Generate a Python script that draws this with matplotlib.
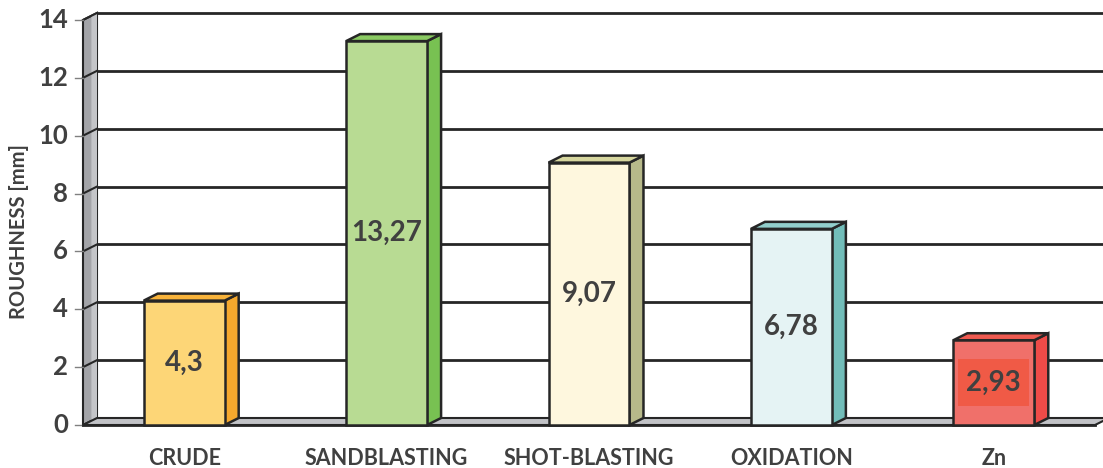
import numpy as np
import matplotlib.pyplot as plt
from matplotlib.patches import Polygon, Rectangle

# data
categories = ['CRUDE', 'SANDBLASTING', 'SHOT-BLASTING', 'OXIDATION', 'Zn']
values = [4.3, 13.27, 9.07, 6.78, 2.93]
labels = ['4,3', '13,27', '9,07', '6,78', '2,93']
yticks = [0, 2, 4, 6, 8, 10, 12, 14]

front_cols = ['#FDD677', '#B8DB93', '#FEF7DE', '#E5F3F4', '#F0706A']
side_cols = ['#F5A82D', '#78C152', '#B7B98A', '#72BDB9', '#EE4B48']
top_cols = ['#F7B23A', '#8ACA62', '#D6D69E', '#92CFCC', '#EF5A50']

plt.rcParams['font.family'] = ['Lato', 'DejaVu Sans']
txt = '#404040'
edge = '#262626'

fig = plt.figure(figsize=(11.03, 4.68), dpi=100)
ax = fig.add_axes([0, 0, 1, 1])
ax.set_axis_off()

# pixel mapping: x=i -> 184.2 + 202.4*i ; y=v -> 425 - 28.93*v (from top)
ppx = 202.4
ppy = 28.93
ax.set_xlim(-184.2 / ppx, (1103 - 184.2) / ppx)
ax.set_ylim(-(468 - 425) / ppy, 425 / ppy)

dx = 14 / ppx   # depth offset
dy = 7 / ppy
x0, x1 = -0.5, len(categories) - 0.5
ymax = 14
bw = 0.4

# left wall
ax.add_patch(Polygon([(x0, 0), (x0, ymax), (x0 + dx, ymax + dy), (x0 + dx, dy)],
                     closed=True, fc='#A3A4A8', ec=edge, lw=1.5, zorder=1))
ax.add_patch(Polygon([(x0 + dx * 0.6, dy * 0.6), (x0 + dx * 0.6, ymax + dy * 0.6),
                      (x0 + dx, ymax + dy), (x0 + dx, dy)],
                     closed=True, fc='#C4C5C8', ec='none', zorder=1))
# floor
ax.add_patch(Polygon([(x0, 0), (x1, 0), (x1 + dx, dy), (x0 + dx, dy)],
                     closed=True, fc='#C2C3C7', ec=edge, lw=1.5, zorder=1))

# gridlines on back wall
for v in yticks[1:]:
    ax.plot([x0 + dx, x1 + 1], [v + dy, v + dy], color=edge, lw=2, zorder=2,
            solid_capstyle='butt')
    ax.plot([x0, x0 + dx], [v, v + dy], color=edge, lw=1.5, zorder=2)
    ax.plot([x0 - 8 / ppx, x0], [v, v], color='#808080', lw=1, zorder=2)
ax.plot([x0 - 8 / ppx, x0], [0, 0], color='#808080', lw=1, zorder=2)
ax.plot([x0, x1], [0, 0], color=edge, lw=2, zorder=2)

# bars
for i, v in enumerate(values):
    l, r = i - bw / 2, i + bw / 2
    ax.add_patch(Polygon([(r, 0), (r + dx, dy), (r + dx, v + dy), (r, v)],
                         closed=True, fc=side_cols[i], ec=edge, lw=1.8, zorder=3))
    ax.add_patch(Polygon([(l, v), (r, v), (r + dx, v + dy), (l + dx, v + dy)],
                         closed=True, fc=top_cols[i], ec=edge, lw=1.8, zorder=3))
    ax.add_patch(Polygon([(l, 0), (r, 0), (r, v), (l, v)],
                         closed=True, fc=front_cols[i], ec=edge, lw=1.8, zorder=4))
    if categories[i] == 'Zn':
        bw_lab, bh_lab = 71 / ppx, 47 / ppy
        ax.add_patch(Rectangle((i - bw_lab / 2, v / 2 - bh_lab / 2), bw_lab, bh_lab,
                               fc='#F05A46', ec='none', zorder=4.5))
    ax.text(i, v / 2, labels[i], ha='center', va='center', fontsize=20,
            fontweight='bold', color=txt, zorder=5)
    ax.text(i, -1.17, categories[i], ha='center', va='center', fontsize=15.5,
            fontweight='bold', color=txt)

for v in yticks:
    ax.text(x0 - 15 / ppx, v, str(v), ha='right', va='center', fontsize=18.5,
            fontweight='bold', color=txt)

ax.text(-0.91 + 19 / ppx, 6.7, 'ROUGHNESS [mm]', rotation=90, ha='center',
        va='center', fontsize=14.5, fontweight='bold', color=txt)

fig.savefig('out.png', dpi=100)
